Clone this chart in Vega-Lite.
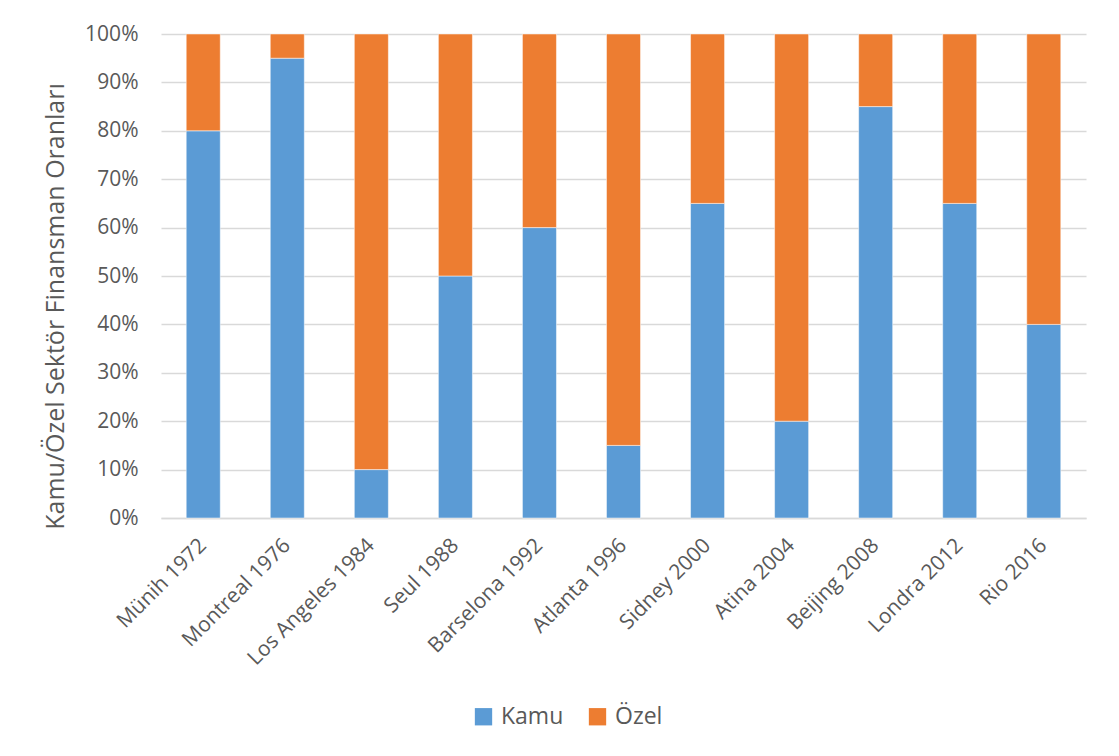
{
  "$schema": "https://vega.github.io/schema/vega-lite/v6.json",
  "width": 925,
  "height": 484,
  "autosize": {"type": "none"},
  "padding": {"left": 161, "top": 34, "right": 33, "bottom": 238},
  "background": "white",
  "config": {
    "font": "Open Sans",
    "view": {"stroke": null},
    "axis": {"labelColor": "#595959", "titleColor": "#595959", "labelFont": "Open Sans", "titleFont": "Open Sans"},
    "legend": {"labelColor": "#595959", "labelFont": "Open Sans"}
  },
  "data": {
    "values": [
      {"city": "Münih 1972", "type": "Kamu", "share": 0.80},
      {"city": "Münih 1972", "type": "Özel", "share": 0.20},
      {"city": "Montreal 1976", "type": "Kamu", "share": 0.95},
      {"city": "Montreal 1976", "type": "Özel", "share": 0.05},
      {"city": "Los Angeles 1984", "type": "Kamu", "share": 0.10},
      {"city": "Los Angeles 1984", "type": "Özel", "share": 0.90},
      {"city": "Seul 1988", "type": "Kamu", "share": 0.50},
      {"city": "Seul 1988", "type": "Özel", "share": 0.50},
      {"city": "Barselona 1992", "type": "Kamu", "share": 0.60},
      {"city": "Barselona 1992", "type": "Özel", "share": 0.40},
      {"city": "Atlanta 1996", "type": "Kamu", "share": 0.15},
      {"city": "Atlanta 1996", "type": "Özel", "share": 0.85},
      {"city": "Sidney 2000", "type": "Kamu", "share": 0.65},
      {"city": "Sidney 2000", "type": "Özel", "share": 0.35},
      {"city": "Atina 2004", "type": "Kamu", "share": 0.20},
      {"city": "Atina 2004", "type": "Özel", "share": 0.80},
      {"city": "Beijing 2008", "type": "Kamu", "share": 0.85},
      {"city": "Beijing 2008", "type": "Özel", "share": 0.15},
      {"city": "Londra 2012", "type": "Kamu", "share": 0.65},
      {"city": "Londra 2012", "type": "Özel", "share": 0.35},
      {"city": "Rio 2016", "type": "Kamu", "share": 0.40},
      {"city": "Rio 2016", "type": "Özel", "share": 0.60}
    ]
  },
  "mark": {"type": "bar", "stroke": "white", "strokeWidth": 0.5},
  "encoding": {
    "x": {
      "field": "city",
      "type": "nominal",
      "sort": null,
      "scale": {"paddingInner": 0.595, "paddingOuter": 0.3},
      "axis": {
        "title": null,
        "labelAngle": -45,
        "labelAlign": "right",
        "labelBaseline": "middle",
        "labelFontSize": 21,
        "labelPadding": 24,
        "ticks": false,
        "domain": true,
        "domainColor": "#D9D9D9",
        "domainWidth": 1.3
      }
    },
    "y": {
      "field": "share",
      "type": "quantitative",
      "stack": "zero",
      "scale": {"domain": [0, 1], "nice": false},
      "axis": {
        "title": "Kamu/Özel Sektör Finansman Oranları",
        "titleFontSize": 25,
        "titleFontWeight": "normal",
        "titlePadding": 16,
        "titleY": 272,
        "format": ".0%",
        "values": [0, 0.1, 0.2, 0.3, 0.4, 0.5, 0.6, 0.7, 0.8, 0.9, 1],
        "labelFontSize": 21,
        "labelPadding": 23,
        "ticks": false,
        "domain": false,
        "grid": true,
        "gridColor": "#D9D9D9",
        "gridWidth": 1.3
      }
    },
    "color": {
      "field": "type",
      "type": "nominal",
      "scale": {"domain": ["Kamu", "Özel"], "range": ["#5B9BD5", "#ED7D31"]},
      "legend": {
        "title": null,
        "orient": "none",
        "legendX": 311,
        "legendY": 671,
        "direction": "horizontal",
        "symbolType": "square",
        "symbolSize": 300,
        "symbolStrokeWidth": 0,
        "labelFontSize": 23,
        "columnPadding": 22,
        "labelOffset": 6
      }
    },
    "order": {"field": "type", "sort": "ascending"}
  }
}
